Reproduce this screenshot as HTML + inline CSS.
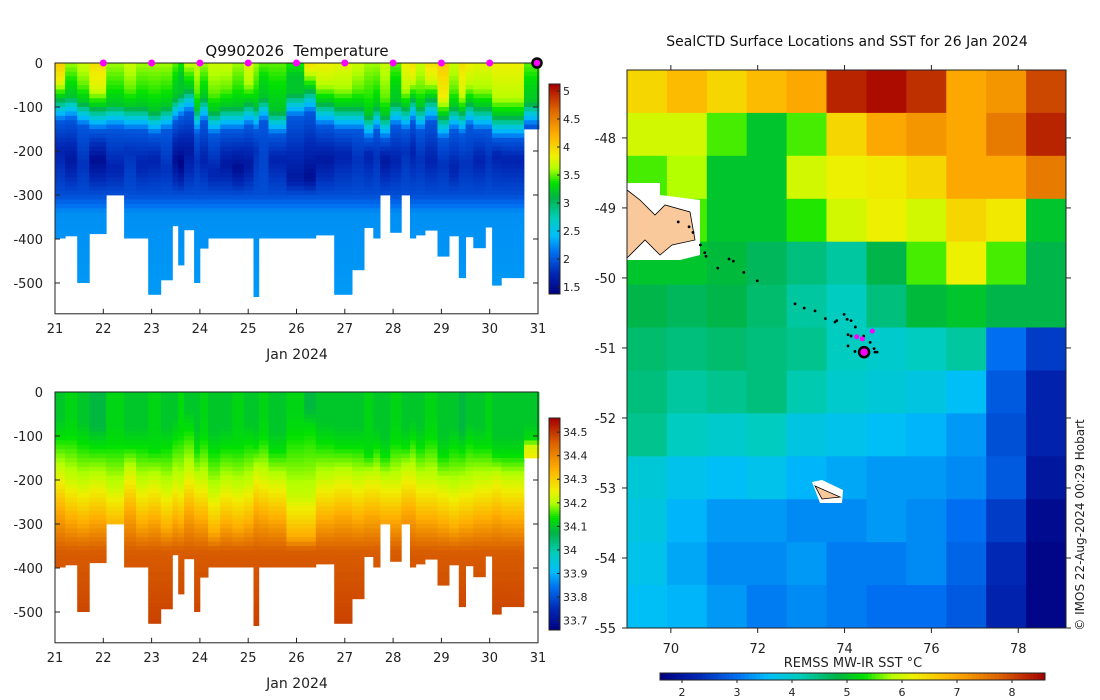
<!DOCTYPE html>
<html><head><meta charset="utf-8">
<style>
html,body{margin:0;padding:0;background:#fff;}
svg{display:block;font-family:"DejaVu Sans","Liberation Sans",sans-serif;}
</style></head>
<body>
<svg id="fig" width="1100" height="700" viewBox="0 0 1100 700" xmlns="http://www.w3.org/2000/svg">
<g id="temp-plot"></g>
<g id="sal-plot"></g>
<g id="map-plot"></g>
</svg>
<script>
// ---- profile data ----
const colStartDays=[21.01,21.21,21.46,21.71,22.06,22.43,22.68,22.93,23.19,23.43,23.55,23.67,23.88,24.0,24.17,24.42,24.67,24.91,25.11,25.22,25.42,25.79,26.16,26.40,26.78,27.15,27.40,27.59,27.73,27.94,28.17,28.35,28.47,28.66,28.92,29.16,29.36,29.50,29.66,29.91,30.05,30.24,30.71];
const colEndDay=31.02;
const bottomDepth=[398,393,499,388,300,398,398,526,493,370,459,379,499,421,398,398,398,398,531,398,398,398,398,391,526,470,374,398,300,385,300,398,391,380,439,393,488,395,420,373,505,488,150];
const surfT=[4.05,3.6,3.7,3.95,3.6,3.7,3.6,3.6,3.6,3.5,3.4,3.7,3.7,3.6,3.7,3.7,3.6,3.8,3.6,3.5,3.5,3.4,3.95,3.85,3.8,3.7,3.6,3.6,3.7,3.5,3.85,3.95,3.7,3.95,4.05,3.7,3.95,3.85,3.8,3.8,3.85,3.85,3.5];
const mixedLayer=[40,35,50,60,55,60,60,70,60,40,30,20,65,40,70,60,60,50,60,40,70,30,20,50,60,60,80,60,80,50,60,40,60,40,80,60,70,50,60,60,80,80,50];
const tminDepth=[200,220,230,220,240,200,230,220,240,220,230,200,220,220,250,230,240,230,200,210,220,260,260,220,210,220,210,210,220,220,200,200,220,220,230,240,230,230,220,220,210,220,140];
const tminVal=[1.7,1.6,1.8,1.5,1.7,1.8,1.7,1.7,1.8,1.5,1.4,1.6,1.8,1.7,1.7,1.6,1.5,1.6,1.8,1.9,1.7,1.6,1.5,1.6,1.7,1.8,1.7,1.8,1.6,1.7,1.8,1.7,1.8,1.7,1.8,1.7,1.8,1.8,1.7,1.8,1.7,1.7,1.9];
const surfS=[34.1,34.12,34.1,34.08,34.12,34.1,34.1,34.12,34.1,34.1,34.13,34.1,34.1,34.12,34.1,34.1,34.12,34.1,34.1,34.12,34.1,34.12,34.08,34.1,34.1,34.1,34.12,34.1,34.1,34.12,34.1,34.1,34.1,34.12,34.1,34.1,34.08,34.1,34.1,34.12,34.1,34.1,34.1];
const deepT=2.3, deepS=34.5;
const surfaceMarkerDays=[22,23,24,25,26,27,28,29,30];
const currentDay=31;
const dayTicks=[21,22,23,24,25,26,27,28,29,30,31];
const depthTicks=[0,-100,-200,-300,-400,-500];
const tempCbTicks=[1.5,2,2.5,3,3.5,4,4.5,5];
const salCbTicks=[33.7,33.8,33.9,34,34.1,34.2,34.3,34.4,34.5];
// ---- map data ----
const sstGrid=[
[6.5,6.8,6.5,6.8,7.0,8.3,8.5,8.2,7.0,7.2,8.0],
[6.0,6.0,5.5,5.0,5.5,6.5,7.0,7.2,7.0,7.5,8.3],
[5.5,5.8,5.0,5.0,6.0,6.2,6.3,6.5,7.0,7.0,7.5],
[5.2,5.5,5.0,5.0,5.4,6.0,6.2,6.0,6.5,6.3,5.0],
[5.0,5.0,4.9,4.7,4.5,4.3,4.8,5.5,6.2,5.5,4.8],
[4.8,4.7,4.8,4.6,4.3,4.1,4.5,4.9,5.0,4.8,4.8],
[4.6,4.5,4.6,4.5,4.4,4.1,4.0,4.1,4.3,3.0,2.5],
[4.5,4.3,4.4,4.5,4.2,4.0,3.9,3.8,3.6,2.8,2.2],
[4.4,4.1,4.0,4.1,3.8,3.7,3.6,3.5,3.3,2.7,2.2],
[3.9,3.7,3.6,3.7,3.5,3.4,3.3,3.3,3.2,2.8,2.0],
[3.8,3.5,3.3,3.3,3.2,3.2,3.3,3.2,3.0,2.5,1.8],
[3.7,3.4,3.2,3.2,3.3,3.1,3.1,3.2,2.9,2.3,1.7],
[3.6,3.5,3.3,3.1,3.2,3.1,3.0,3.0,2.8,2.2,1.7]];
const trackLon=[70.17,70.42,70.51,70.68,70.78,70.81,71.08,71.34,71.44,71.68,71.99,72.86,73.07,73.32,73.56,73.78,73.82,73.99,74.06,74.15,74.25,74.08,74.15,74.26,74.44,74.08,74.59,74.24,74.44,74.68,74.70,74.75];
const trackLat=[-49.20,-49.27,-49.35,-49.53,-49.64,-49.69,-49.86,-49.73,-49.76,-49.92,-50.04,-50.37,-50.43,-50.47,-50.58,-50.63,-50.61,-50.52,-50.59,-50.61,-50.70,-50.81,-50.83,-50.84,-50.83,-50.97,-50.92,-51.05,-51.08,-51.01,-51.06,-51.06];
const recentLon=[74.28,74.41,74.64];
const recentLat=[-50.84,-50.87,-50.76];
const currentLon=74.45, currentLat=-51.06;
const lonTicks=[70,72,74,76,78];
const latTicks=[-48,-49,-50,-51,-52,-53,-54,-55];
const sstCbTicks=[2,3,4,5,6,7,8];

const NS="http://www.w3.org/2000/svg";
function mk(tag,attrs,parent,text){const e=document.createElementNS(NS,tag);for(const k in attrs)e.setAttribute(k,attrs[k]);if(text!==undefined)e.textContent=text;parent.appendChild(e);return e;}
const CMAP=[[0,0,0,128],[0.10,0,40,180],[0.20,0,110,240],[0.28,0,190,250],[0.36,0,205,190],[0.46,0,180,70],[0.53,0,225,0],[0.60,180,255,0],[0.66,240,240,0],[0.76,255,175,0],[0.88,220,100,0],[1,165,0,0]];
function jet(v){v=Math.max(0,Math.min(1,v));
 for(let i=0;i<CMAP.length-1;i++){const a=CMAP[i],b=CMAP[i+1];if(v<=b[0]){const t=(v-a[0])/(b[0]-a[0]);
  return `rgb(${Math.round(a[1]+t*(b[1]-a[1]))},${Math.round(a[2]+t*(b[2]-a[2]))},${Math.round(a[3]+t*(b[3]-a[3]))})`;}}
 return 'rgb(165,0,0)';}
function interp(pts,d){for(let i=0;i<pts.length-1;i++){if(d<=pts[i+1][0]){const t=(d-pts[i][0])/(pts[i+1][0]-pts[i][0]);return pts[i][1]+t*(pts[i+1][1]-pts[i][1]);}}return pts[pts.length-1][1];}

function section(g,y0,kind){
 const x0=55,x1=538,dMax=570,ky=0.44;
 const xs=d=>x0+(d-21)/(31-21)*(x1-x0);
 const ys=z=>y0+z*ky;
 const cmin=kind==='T'?1.375:33.66, cmax=kind==='T'?5.125:34.56;
 for(let i=0;i<colStartDays.length;i++){
  const xa=xs(colStartDays[i]), xb=xs(i+1<colStartDays.length?colStartDays[i+1]:colEndDay);
  const m=mixedLayer[i];
  let pts;
  if(kind==='T') pts=[[0,surfT[i]],[m,surfT[i]-0.2],[m+40,3.2],[m+65,2.6],[m+95,2.0],[Math.max(tminDepth[i],m+100),tminVal[i]],[300,1.95],[340,2.25],[600,deepT]];
  else pts=[[0,surfS[i]],[m+20,surfS[i]],[m+60,34.13],[tminDepth[i]-20,34.22],[tminDepth[i]+70,34.35],[360,deepS-0.04],[600,deepS]];
  for(let z=0;z<bottomDepth[i];z+=10){
   const v=interp(pts,z+5);
   const r=mk('rect',{x:xa.toFixed(1),y:ys(z).toFixed(1),width:(xb-xa+0.4).toFixed(1),height:(Math.min(10,bottomDepth[i]-z)*ky+0.4).toFixed(1),fill:jet((v-cmin)/(cmax-cmin))},g);
   
   
  }
 }
 const box=mk('rect',{x:x0,y:y0,width:x1-x0,height:dMax*ky,fill:'none',stroke:'#222','stroke-width':1},g);
 
 depthTicks.forEach(t=>{const y=ys(-t);
  mk('line',{x1:x0,x2:x0+5,y1:y,y2:y,stroke:'#222'},g);mk('line',{x1:x1,x2:x1-5,y1:y,y2:y,stroke:'#222'},g);
  const tx=mk('text',{x:43,y:y+5,'text-anchor':'end','font-size':13,fill:'#222'},g,String(t));
  });
 dayTicks.forEach(d=>{const x=xs(d);
  mk('line',{x1:x,x2:x,y1:y0+dMax*ky,y2:y0+dMax*ky-5,stroke:'#222'},g);
  const tx=mk('text',{x:x,y:y0+dMax*ky+19,'text-anchor':'middle','font-size':13,fill:'#222'},g,String(d));
  });
 const xl=mk('text',{x:297,y:y0+dMax*ky+45,'text-anchor':'middle','font-size':14,fill:'#222'},g,'Jan 2024');
 
 const cbTop=kind==='T'?84:418, cbBot=kind==='T'?294:630;
 for(let k=0;k<100;k++){const yy=cbBot-(k+1)*(cbBot-cbTop)/100;
  mk('rect',{x:549,y:yy,width:11,height:(cbBot-cbTop)/100+0.5,fill:jet((k+0.5)/100)},g);}
 const cb=mk('rect',{x:549,y:cbTop,width:11,height:cbBot-cbTop,fill:'none',stroke:'#222'},g);
 
 const ticks=kind==='T'?tempCbTicks:salCbTicks;
 ticks.forEach(t=>{const y=cbBot-(t-cmin)/(cmax-cmin)*(cbBot-cbTop);
  mk('line',{x1:557,x2:560,y1:y,y2:y,stroke:'#222'},g);
  const tx=mk('text',{x:563,y:y+4,'font-size':11,fill:'#222'},g,String(t));
  });
 if(kind==='T'){
  const tt=mk('text',{x:297,y:56,'text-anchor':'middle','font-size':15,fill:'#111'},g,'Q9902026\u00a0 Temperature');
  
  surfaceMarkerDays.forEach(d=>{const c=mk('circle',{cx:xs(d),cy:y0,r:3.5,fill:'#ff00ff'},g);
   });
  const cc=mk('circle',{cx:xs(currentDay)-1,cy:y0,r:4.5,fill:'#ff00ff',stroke:'#000','stroke-width':2.5},g);
  
 }
}
section(document.getElementById('temp-plot'),63,'T');
section(document.getElementById('sal-plot'),392,'S');

(function(){
 const g=document.getElementById('map-plot');
 const mx0=627,mx1=1066,my0=70,my1=628;
 const lonMin=68.99,lonMax=79.1,latTop=-47.03,latBot=-55.0;
 const xs=lo=>mx0+(lo-lonMin)/(lonMax-lonMin)*(mx1-mx0);
 const ys=la=>my0+(latTop-la)/(latTop-latBot)*(my1-my0);
 const smin=1.6,smax=8.6;
 const nr=sstGrid.length,nc=sstGrid[0].length;
 const cw=(mx1-mx0)/nc,ch=(my1-my0)/nr;
 for(let r=0;r<nr;r++)for(let c=0;c<nc;c++){
  const cell=mk('rect',{x:(mx0+c*cw).toFixed(1),y:(my0+r*ch).toFixed(1),width:(cw+0.5).toFixed(1),height:(ch+0.5).toFixed(1),fill:jet((sstGrid[r][c]-smin)/(smax-smin))},g);
  
 }
 const kw=mk('polygon',{points:'627,183 660,183 660,195 700,200 700,255 680,260 627,260',fill:'#fff'},g);
 
 const kl=mk('polygon',{points:'627,190 640,200 655,215 665,205 690,212 695,240 672,245 660,255 645,240 627,258',fill:'#f9c89b',stroke:'#000','stroke-width':0.8},g);
 
 mk('polygon',{points:'812,482 822,480 843,490 842,503 820,503',fill:'#fff'},g);
 const hl=mk('polygon',{points:'815,486 840,497 822,499',fill:'#f9c89b',stroke:'#000','stroke-width':0.8},g);
 
 for(let i=0;i<trackLon.length;i++){const p=mk('circle',{cx:xs(trackLon[i]),cy:ys(trackLat[i]),r:1.4,fill:'#000'},g);
  }
 for(let i=0;i<recentLon.length;i++){const p=mk('circle',{cx:xs(recentLon[i]),cy:ys(recentLat[i]),r:2.5,fill:'#ff00ff'},g);
  }
 const cp=mk('circle',{cx:xs(currentLon),cy:ys(currentLat),r:5,fill:'#ff00ff',stroke:'#000','stroke-width':2.5},g);
 
 const fr=mk('rect',{x:mx0,y:my0,width:mx1-mx0,height:my1-my0,fill:'none',stroke:'#222'},g);
 
 lonTicks.forEach(l=>{const x=xs(l);
  mk('line',{x1:x,x2:x,y1:my0,y2:my0-5,stroke:'#222'},g);mk('line',{x1:x,x2:x,y1:my1,y2:my1+5,stroke:'#222'},g);
  const t=mk('text',{x:x,y:653,'text-anchor':'middle','font-size':13,fill:'#222'},g,String(l));
  });
 latTicks.forEach(l=>{const y=ys(l);
  mk('line',{x1:mx0,x2:mx0-5,y1:y,y2:y,stroke:'#222'},g);mk('line',{x1:mx1,x2:mx1+5,y1:y,y2:y,stroke:'#222'},g);
  const t=mk('text',{x:616,y:y+5,'text-anchor':'end','font-size':13,fill:'#222'},g,String(l));
  });
 const tt=mk('text',{x:847,y:46,'text-anchor':'middle','font-size':14,fill:'#111'},g,'SealCTD Surface Locations and SST for 26 Jan 2024');
 
 const cl=mk('text',{x:853,y:667,'text-anchor':'middle','font-size':13,fill:'#222'},g,'REMSS MW-IR SST °C');
 
 const cx0=660,cx1=1045;
 for(let k=0;k<100;k++)mk('rect',{x:cx0+k*(cx1-cx0)/100,y:673,width:(cx1-cx0)/100+0.5,height:7,fill:jet((k+0.5)/100)},g);
 const cb=mk('rect',{x:cx0,y:673,width:cx1-cx0,height:7,fill:'none',stroke:'#222'},g);
 
 sstCbTicks.forEach(t=>{const x=cx0+(t-smin)/(smax-smin)*(cx1-cx0);
  mk('line',{x1:x,x2:x,y1:680,y2:683,stroke:'#222'},g);
  const tx=mk('text',{x:x,y:696,'text-anchor':'middle','font-size':11,fill:'#222'},g,String(t));
  });
 const cr=mk('text',{x:1084,y:525,'text-anchor':'middle','font-size':12,fill:'#222',transform:'rotate(-90 1084 525)'},g,'© IMOS 22-Aug-2024 00:29 Hobart');
 
})();
</script>
</body></html>
